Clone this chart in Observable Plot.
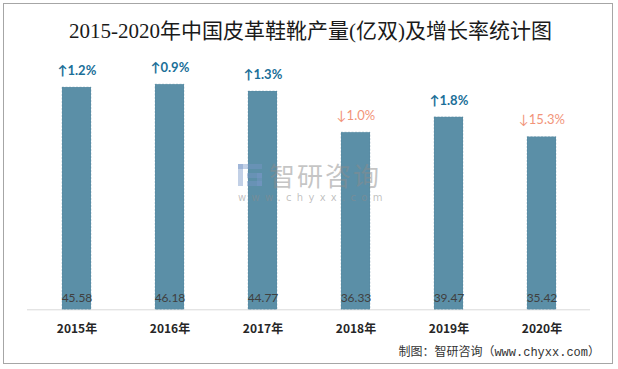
<!DOCTYPE html>
<html><head><meta charset="utf-8">
<script src="https://cdn.jsdelivr.net/npm/d3@7"></script>
<script src="https://cdn.jsdelivr.net/npm/@observablehq/plot@0.6"></script>
<style>
body{margin:0;background:#fff;}
#wrap{position:relative;width:618px;height:369px;overflow:hidden;background:#fff;font-family:"Noto Sans CJK SC",sans-serif;}
#frame{position:absolute;left:3px;top:3px;width:610px;height:361px;border:1px solid #a6a6a6;box-sizing:border-box;}
#title{position:absolute;left:0;top:18px;width:621px;text-align:center;font:21px/26px "Liberation Serif","Noto Sans CJK SC",serif;color:#1a1a1a;}
#chart{position:absolute;left:0;top:50px;}
#wm{position:absolute;left:238px;top:160px;width:150px;height:45px;pointer-events:none;}
#wm .logo{position:absolute;left:0;top:4px;width:24px;height:22px;}
#wm .logo div{position:absolute;background:rgba(120,150,200,0.45);}
#wm .cn{position:absolute;left:31px;top:2px;font:26px/26px "Noto Sans CJK SC",sans-serif;color:rgba(140,140,140,0.5);letter-spacing:2px;}
#wm .en{position:absolute;left:0;top:32px;font:10px/12px "DejaVu Sans",sans-serif;color:rgba(140,140,140,0.55);letter-spacing:5.3px;}
#src{position:absolute;right:18px;top:345px;font:12px/16px "Liberation Mono","Noto Sans CJK SC",monospace;color:#333;}
</style></head>
<body>
<div id="wrap">
  <div id="frame"></div>
  <div id="title">2015-2020年中国皮革鞋靴产量(亿双)及增长率统计图</div>
  <div id="chart"></div>
  <div id="wm">
    <div class="logo"><div style="left:0;top:0;width:24px;height:5px"></div><div style="left:0;top:0;width:5px;height:22px"></div><div style="left:9px;top:9px;width:15px;height:5px"></div><div style="left:19px;top:9px;width:5px;height:13px"></div><div style="left:9px;top:17px;width:15px;height:5px"></div></div>
    <div class="cn">智研咨询</div>
    <div class="en">www.chyxx.com</div>
  </div>
  <div id="src">制图：智研咨询（www.chyxx.com）</div>
</div>
<script>
const years = ["2015年","2016年","2017年","2018年","2019年","2020年"];
const output = [45.58, 46.18, 44.77, 36.33, 39.47, 35.42];
const growth = [1.2, 0.9, 1.3, -1.0, 1.8, -15.3];

const data = years.map((y, i) => ({year: y, value: output[i], growth: growth[i]}));
const gLabel = d => (d.growth >= 0 ? "↑" : "↓") + Math.abs(d.growth).toFixed(1) + "%";

const chart = Plot.plot({
  width: 618,
  height: 290,
  marginLeft: 27,
  marginRight: 28,
  marginTop: 15.5,
  marginBottom: 30.7,
  style: {background: "transparent"},
  x: {domain: years, paddingInner: 0.69, paddingOuter: 0.356, axis: null},
  y: {domain: [0, 50], axis: null},
  marks: [
    Plot.ruleY([0], {stroke: "#d9d9d9", strokeWidth: 1}),
    Plot.barY(data, {x: "year", y: "value", fill: "#5b8fa7", stroke: "#4a7b92", strokeWidth: 0.5, strokeOpacity: 0.6, strokeDasharray: "2,1.5"}),
    Plot.text(data, {x: "year", y: 0, text: d => d.value.toFixed(2), dy: -12, fill: "#404040", fontSize: 12, fontFamily: "Lato, sans-serif"}),
    Plot.text(data.filter(d => d.growth >= 0), {x: "year", y: "value", text: gLabel, dy: -17, fill: "#1b6f98", fontSize: 13, fontWeight: "bold", fontFamily: "Lato, sans-serif"}),
    Plot.text(data.filter(d => d.growth < 0), {x: "year", y: "value", text: gLabel, dy: -17, fill: "#f29479", fontSize: 13, fontFamily: "Lato, sans-serif"}),
    Plot.axisX({domain: years, tickSize: 0, tickPadding: 15, fontSize: 12, fontWeight: "bold", fill: "#262626", fontFamily: "Noto Sans CJK SC, sans-serif", label: null})
  ]
});
document.getElementById("chart").appendChild(chart);
</script>
</body></html>
